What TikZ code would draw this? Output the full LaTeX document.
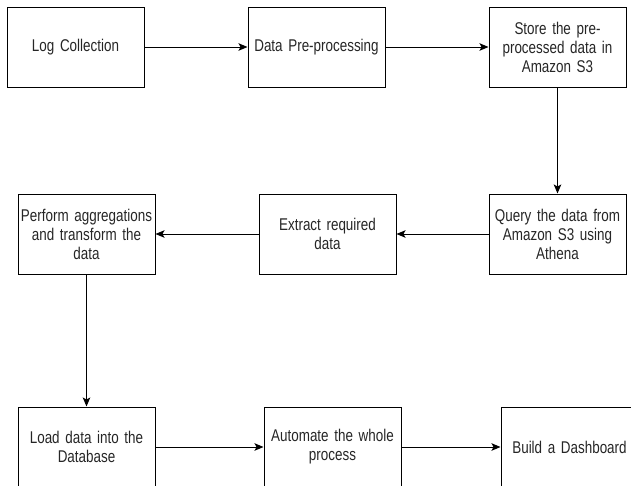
\documentclass[tikz,border=0pt]{standalone}
\usepackage{fontspec}
\setmainfont{Liberation Sans}[FakeStretch=0.79, WordSpace=0.79]
\usetikzlibrary{arrows.meta,positioning}

\begin{document}
\begin{tikzpicture}[
      >={Stealth[length=9pt,width=7.5pt,inset=2pt]}, x=1pt, y=1pt,
      blk/.style={draw, line width=1pt, minimum width=137pt, minimum height=80pt, inner sep=0pt,
        text width=134pt, align=center, text=black!85, font=\fontsize{17}{19}\selectfont},
      flow/.style={->, line width=1pt}]
    \useasboundingbox (0,0) rectangle (631,-485);
    % top row
    \node[blk] (logs) at (75.5,-47) {Log Collection};
    \node[blk, right=103pt of logs] (prep) {Data Pre-processing};
    \node[blk, right=103pt of prep] (store) {Store the pre-\\processed data in\\Amazon S3};
    % middle row, right to left
    \node[blk, below=106pt of store] (query) {Query the data from\\Amazon S3 using\\Athena};
    \node[blk, left=92pt of query] (extract) {Extract required\\data};
    \node[blk, left=103pt of extract] (aggr) {Perform aggregations\\and transform the\\data};
    % bottom row
    \node[blk, below=132pt of aggr] (load) {Load data into the\\Database};
    \node[blk, right=108pt of load] (auto) {Automate the whole\\process};
    \node[blk, right=99pt of auto] (dash) {Build a Dashboard};
    \draw[flow] (logs) -- (prep);
    \draw[flow] (prep) -- (store);
    \draw[flow] (store) -- (query);
    \draw[flow] (query) -- (extract);
    \draw[flow] (extract) -- (aggr);
    \draw[flow] (aggr) -- (load);
    \draw[flow] (load) -- (auto);
    \draw[flow] (auto) -- (dash);
  \end{tikzpicture}
\end{document}
